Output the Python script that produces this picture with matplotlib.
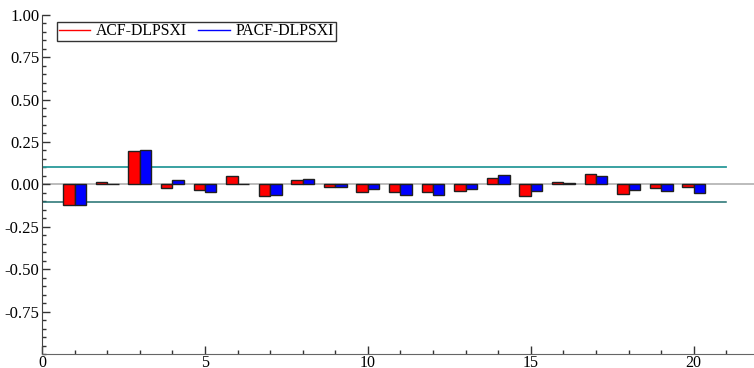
import numpy as np
import matplotlib
matplotlib.use("Agg")
import matplotlib.pyplot as plt
from matplotlib.ticker import MultipleLocator, FormatStrFormatter

plt.rcParams["font.family"] = ["Liberation Serif", "DejaVu Serif"]
plt.rcParams["axes.unicode_minus"] = False

# Correlogram values
lags = np.arange(1, 21)
acf = [-0.121, 0.014, 0.197, -0.023, -0.033, 0.049, -0.066, 0.027, -0.014, -0.043,
       -0.043, -0.047, -0.037, 0.037, -0.068, 0.014, 0.060, -0.058, -0.023, -0.014]
pacf = [-0.121, 0.003, 0.203, 0.025, -0.043, 0.002, -0.064, 0.029, -0.014, -0.029,
        -0.064, -0.060, -0.029, 0.053, -0.037, 0.008, 0.047, -0.031, -0.041, -0.051]
band = 0.104
max_lag = 21

fig = plt.figure(figsize=(7.54, 3.68), dpi=100)
ax = fig.add_axes([42 / 754, 14 / 368, 1 - 42 / 754, 341 / 368])

w = 0.35
ax.axhline(0, color="#b0b0b0", lw=1.2, zorder=1)
ax.bar(lags - w / 2, acf, width=w, color="red", edgecolor="#202020", lw=1.0, zorder=3)
ax.bar(lags + w / 2, pacf, width=w, color="blue", edgecolor="#202020", lw=1.0, zorder=3)
ax.plot([0, max_lag], [band, band], color="#2a9a9a", lw=1.3, zorder=2)
ax.plot([0, max_lag], [-band, -band], color="#1f6f6f", lw=1.1, zorder=2)

# legend proxies
ax.plot([], [], color="red", lw=1, label="ACF-DLPSXI")
ax.plot([], [], color="blue", lw=1, label="PACF-DLPSXI")
leg = ax.legend(loc="upper left", ncol=2, fontsize=11.3, frameon=True, fancybox=False,
                bbox_to_anchor=(0.021, 0.974), handlelength=2.0, borderpad=0.1,
                borderaxespad=0, columnspacing=0.7, handletextpad=0.4)
leg.get_frame().set_edgecolor("black")
leg.get_frame().set_linewidth(1.0)

ax.set_xlim(0, 21.85)
ax.set_ylim(-1, 1.01)
ax.xaxis.set_major_locator(MultipleLocator(5))
ax.xaxis.set_minor_locator(MultipleLocator(1))
ax.yaxis.set_minor_locator(MultipleLocator(0.05))
ax.yaxis.set_major_formatter(FormatStrFormatter("%.2f"))
ax.set_yticks([-0.75, -0.5, -0.25, 0, 0.25, 0.5, 0.75, 1.0])
ax.tick_params(which="both", direction="in", colors="#333333", labelcolor="black", labelsize=12)
ax.tick_params(which="major", length=6, width=1)
ax.tick_params(which="minor", length=3, width=1)
ax.tick_params(axis="x", pad=0.5, labelsize=11.5)
ax.tick_params(axis="y", pad=2)

for s in ["top", "right"]:
    ax.spines[s].set_visible(False)
ax.spines["left"].set_color("#444444")
ax.spines["bottom"].set_color("#666666")
ax.spines["left"].set_bounds(-1, 1)

fig.savefig("out.png", dpi=100)
